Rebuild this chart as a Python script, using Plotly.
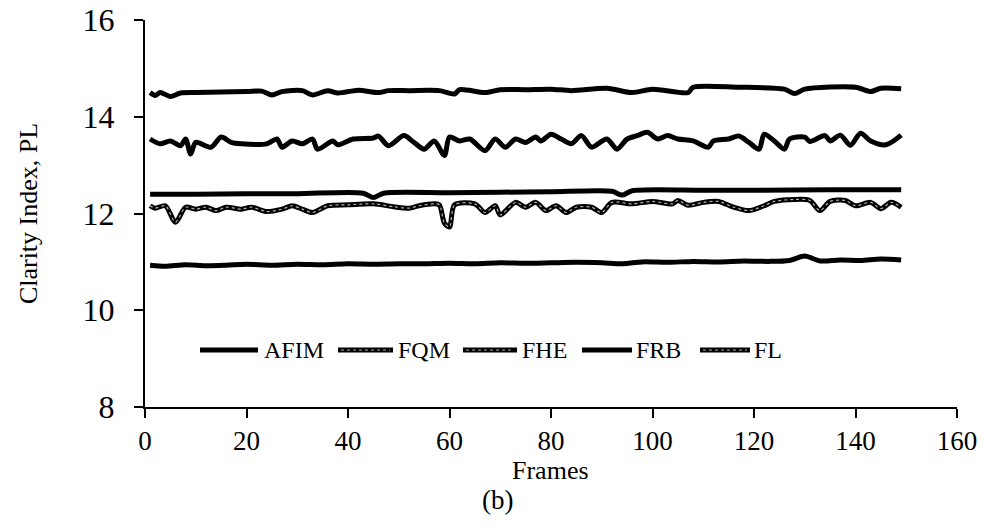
import plotly.graph_objects as go

# ---------------- data ----------------
afim_f = [1, 2, 3, 5, 7, 10, 15, 20, 23, 25, 27, 31, 33, 36, 38, 42, 46, 48, 52, 58, 61, 62, 67, 70, 75, 80, 84, 91, 96, 100, 107, 108, 117, 126, 128, 130, 140, 143, 145, 149]
afim_v = [14.50, 14.44, 14.50, 14.42, 14.49, 14.50, 14.51, 14.52, 14.53, 14.45, 14.52, 14.54, 14.45, 14.54, 14.49, 14.55, 14.50, 14.54, 14.54, 14.54, 14.47, 14.56, 14.50, 14.56, 14.56, 14.57, 14.54, 14.59, 14.50, 14.57, 14.50, 14.61, 14.61, 14.57, 14.48, 14.57, 14.61, 14.52, 14.59, 14.58]

fqm_f = [1, 3, 5, 7, 8, 9, 10, 13, 15, 17, 19, 24, 26, 27, 29, 31, 33, 34, 37, 38, 41, 45, 46, 48, 51, 53, 55, 57, 59, 60, 62, 64, 67, 69, 71, 73, 75, 77, 78, 80, 82, 84, 86, 88, 91, 93, 95, 97, 99, 101, 103, 105, 108, 111, 112, 115, 117, 119, 121, 122, 124, 126, 127, 130, 131, 134, 135, 137, 139, 141, 143, 146, 149]
fqm_v = [13.54, 13.44, 13.50, 13.40, 13.54, 13.23, 13.47, 13.37, 13.58, 13.47, 13.44, 13.44, 13.54, 13.37, 13.50, 13.44, 13.54, 13.33, 13.50, 13.42, 13.54, 13.56, 13.60, 13.40, 13.61, 13.47, 13.33, 13.50, 13.20, 13.58, 13.50, 13.54, 13.30, 13.54, 13.37, 13.54, 13.47, 13.58, 13.50, 13.64, 13.54, 13.44, 13.61, 13.37, 13.54, 13.33, 13.54, 13.61, 13.68, 13.54, 13.61, 13.54, 13.50, 13.37, 13.50, 13.54, 13.60, 13.47, 13.33, 13.64, 13.50, 13.33, 13.54, 13.58, 13.49, 13.61, 13.50, 13.62, 13.41, 13.66, 13.50, 13.42, 13.62]

fhe_f = [1, 2, 4, 6, 8, 10, 12, 14, 16, 19, 21, 24, 27, 29, 31, 33, 36, 40, 45, 49, 52, 54, 57, 58, 59, 60, 61, 65, 67, 69, 70, 73, 75, 77, 79, 81, 83, 85, 88, 90, 92, 96, 100, 104, 105, 107, 110, 113, 116, 119, 122, 124, 128, 131, 133, 135, 138, 140, 143, 145, 147, 149]
fhe_v = [12.16, 12.11, 12.16, 11.82, 12.13, 12.09, 12.13, 12.06, 12.13, 12.09, 12.13, 12.04, 12.09, 12.16, 12.09, 12.02, 12.16, 12.18, 12.20, 12.14, 12.11, 12.16, 12.20, 12.18, 11.80, 11.72, 12.18, 12.20, 12.02, 12.16, 11.97, 12.23, 12.13, 12.23, 12.06, 12.16, 12.02, 12.13, 12.13, 12.02, 12.23, 12.20, 12.25, 12.20, 12.27, 12.17, 12.23, 12.25, 12.13, 12.06, 12.16, 12.25, 12.29, 12.27, 12.06, 12.25, 12.27, 12.16, 12.23, 12.10, 12.23, 12.13]

frb_f = [1, 10, 20, 30, 43, 45, 47, 60, 70, 80, 92, 94, 96, 110, 120, 135, 149]
frb_v = [12.40, 12.40, 12.41, 12.41, 12.42, 12.33, 12.42, 12.43, 12.44, 12.45, 12.46, 12.38, 12.47, 12.48, 12.48, 12.49, 12.49]

fl_f = [1, 4, 8, 12, 16, 20, 25, 30, 35, 40, 45, 50, 55, 60, 65, 70, 75, 80, 85, 90, 94, 98, 103, 108, 113, 118, 123, 127, 130, 133, 137, 141, 145, 149]
fl_v = [10.93, 10.91, 10.94, 10.92, 10.93, 10.95, 10.93, 10.95, 10.94, 10.96, 10.95, 10.96, 10.96, 10.97, 10.96, 10.98, 10.97, 10.98, 10.99, 10.98, 10.96, 11.00, 10.99, 11.01, 11.00, 11.02, 11.01, 11.03, 11.12, 11.02, 11.04, 11.03, 11.06, 11.04]

series_names = ["AFIM", "FQM", "FHE", "FRB", "FL"]
x_ticks = [0, 20, 40, 60, 80, 100, 120, 140, 160]
y_ticks = [8, 10, 12, 14, 16]

# ---------------- layout helpers (page pixel -> paper fraction) ----------------
# plot area spans page x 145..957, y 20..407 (body margin removed below)
def px_x(p):
    return (p - 145) / 812.0

def px_y(p):
    return (407 - p) / 387.0

FONT = "Liberation Serif"
fig = go.Figure()

data = [(afim_f, afim_v), (fqm_f, fqm_v), (fhe_f, fhe_v), (frb_f, frb_v), (fl_f, fl_v)]
for name, (xf, yv) in zip(series_names, data):
    fig.add_trace(go.Scatter(
        x=xf, y=yv, mode="lines", name=name, showlegend=False,
        line=dict(color="black", width=5, shape="spline", smoothing=0.8),
    ))

# light inner stroke giving the double-line look of FHE
fig.add_trace(go.Scatter(
    x=fhe_f, y=fhe_v, mode="lines", showlegend=False, hoverinfo="skip",
    line=dict(color="#b0b0b0", width=1.2, dash="dot", shape="spline", smoothing=0.8),
))

# legend drawn as in the original (long samples touching the labels)
sample_pos = [(200, 258), (338, 393), (463, 517), (582, 632), (700, 750)]
text_pos = [262, 396, 520, 634, 752]
inner = [False, True, True, False, True]
legend_y = px_y(350)
shapes = []
annotations = []
for name, (a, b), t, inn in zip(series_names, sample_pos, text_pos, inner):
    shapes.append(dict(type="line", xref="paper", yref="paper",
                       x0=px_x(a), x1=px_x(b), y0=legend_y, y1=legend_y,
                       line=dict(color="black", width=5)))
    if inn:
        shapes.append(dict(type="line", xref="paper", yref="paper",
                           x0=px_x(a + 3), x1=px_x(b - 3), y0=legend_y, y1=legend_y,
                           line=dict(color="#b0b0b0", width=1.2, dash="dot")))
    annotations.append(dict(text=name, xref="paper", yref="paper", x=px_x(t), y=legend_y,
                            xanchor="left", yanchor="middle", showarrow=False,
                            font=dict(family=FONT, size=24, color="black")))

annotations.append(dict(text="Frames", xref="paper", yref="paper", x=px_x(550), y=px_y(471),
                        xanchor="center", yanchor="middle", showarrow=False,
                        font=dict(family=FONT, size=26, color="black")))
annotations.append(dict(text="(b)", xref="paper", yref="paper", x=px_x(497), y=px_y(500),
                        xanchor="center", yanchor="middle", showarrow=False,
                        font=dict(family=FONT, size=27, color="black")))

fig.update_layout(
    width=984, height=531,
    margin=dict(l=145, r=27, t=20, b=124, autoexpand=False),
    paper_bgcolor="white", plot_bgcolor="white",
    font=dict(family=FONT, size=24, color="black"),
    showlegend=False,
    shapes=shapes,
    annotations=annotations,
    xaxis=dict(
        range=[0, 160], tickvals=x_ticks, ticktext=[str(v) for v in x_ticks],
        showgrid=False, zeroline=False, automargin=False,
        showline=True, linecolor="black", linewidth=2,
        ticks="outside", ticklen=9, tickwidth=2, tickcolor="black",
        ticklabelstandoff=0, ticklabeloverflow="allow",
        tickfont=dict(family=FONT, size=27, color="black"),
    ),
    yaxis=dict(
        range=[8, 16], tickvals=y_ticks, ticktext=[str(v) for v in y_ticks],
        showgrid=False, zeroline=False, automargin=False,
        showline=True, linecolor="black", linewidth=2,
        ticks="outside", ticklen=9, tickwidth=2, tickcolor="black",
        ticklabelstandoff=13, ticklabeloverflow="allow",
        tickfont=dict(family=FONT, size=32, color="black"),
        title=dict(text="Clarity Index, PL", font=dict(family=FONT, size=26, color="black"), standoff=37),
    ),
)

fig.write_html("out.html", config={"displayModeBar": False},
               post_script="document.body.style.margin='0px';")
